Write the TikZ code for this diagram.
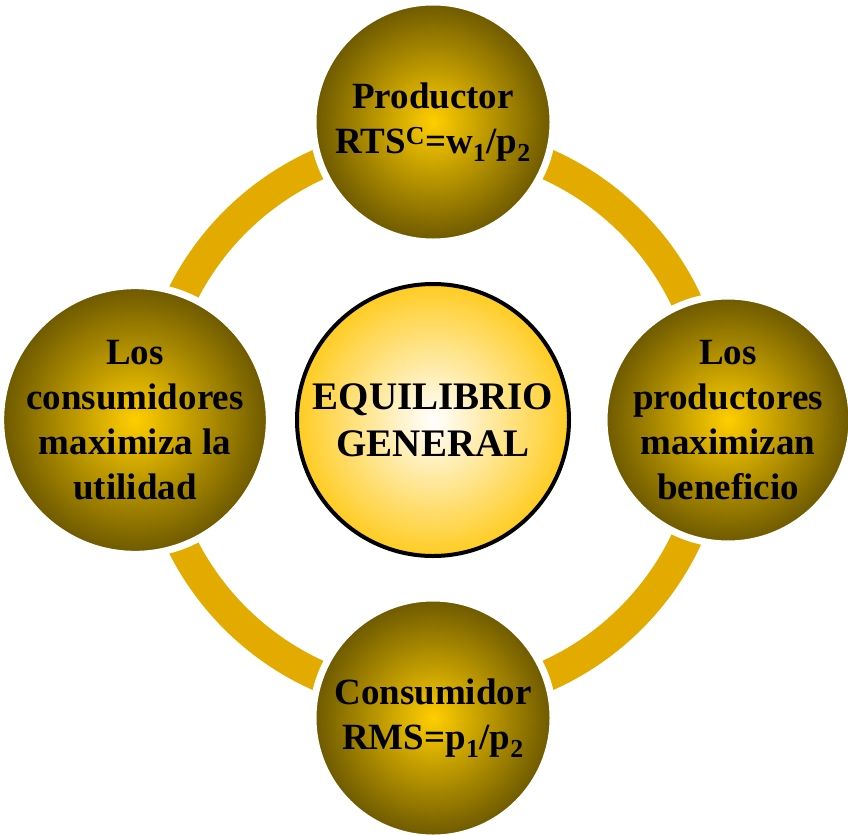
\documentclass[tikz,border=0pt]{standalone}
\usepackage{fontspec}
\setmainfont{Liberation Serif}
\usepackage{tikz}
\usetikzlibrary{
        shapes,
        positioning
    }
\definecolor{ringgold}{RGB}{227,170,0}
\definecolor{satin}{RGB}{255,206,0}
\definecolor{satout}{RGB}{108,88,0}
\definecolor{hubout}{RGB}{255,204,34}

\begin{document}
\begin{tikzpicture}
[x=1pt, y=-1pt,
baseshape/.style={circle, inner sep=0pt, align=center, text centered},
satellite/.style={baseshape, minimum size=240pt, draw=white, line width=7pt, inner color=satin, outer color=satout, font=\bfseries\fontsize{37}{45}\selectfont},
hub/.style={baseshape, minimum size=272pt, draw=black, line width=4pt, inner color=white, outer color=hubout, font=\bfseries\fontsize{39}{47}\selectfont},
ring/.style={draw=ringgold, line width=31pt},
node distance=298pt,]

    \useasboundingbox (0,0) rectangle (848,835);

    \node (eq) [hub] at (433,420) {EQUILIBRIO\\GENERAL};
    \draw[ring] (eq.center) circle (280);

    \node (prod) [satellite, above of= eq] {Productor\\RTS\textsuperscript{C}=w\textsubscript{1}/p\textsubscript{2}};
    \node (cons) [satellite, below of= eq] {Consumidor\\RMS=p\textsubscript{1}/p\textsubscript{2}};
    \node (umax) [satellite, left of= eq, xshift=0pt] {Los\\consumidores\\maximiza la\\utilidad};
    \node (bmax) [satellite, right of= eq, xshift=-3pt] {Los\\productores\\maximizan\\beneficio};
\end{tikzpicture}
\end{document}
